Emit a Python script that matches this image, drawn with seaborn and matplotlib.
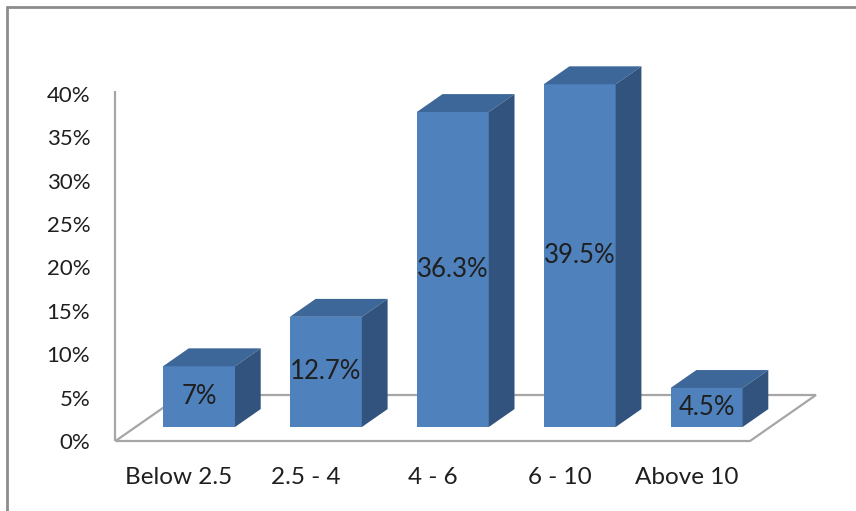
import matplotlib
matplotlib.use("Agg")
import matplotlib.pyplot as plt
from matplotlib.patches import Polygon
from matplotlib.lines import Line2D
import seaborn as sns
import pandas as pd

# Share of respondents per range
categories = ["Below 2.5", "2.5 - 4", "4 - 6", "6 - 10", "Above 10"]
values = [7.0, 12.7, 36.3, 39.5, 4.5]
value_labels = ["7%", "12.7%", "36.3%", "39.5%", "4.5%"]
tick_values = [0, 5, 10, 15, 20, 25, 30, 35, 40]
tick_labels = ["0%", "5%", "10%", "15%", "20%", "25%", "30%", "35%", "40%"]

sns.set_style("white")
plt.rcParams["font.family"] = ["Lato", "DejaVu Sans"]

FRONT = "#4F81BD"
TOP = "#3D6798"
SIDE = "#31537D"
GRID = "#A6A6A6"
TEXT = "#1F1F1F"

# oblique projection: full floor depth expressed in (category, percent) units
DEPTH = (0.52, 5.30)
FRONT_FRAC = 0.304      # bars sit this far back from the floor's front edge
BAR_FRAC = 0.39         # depth of each bar
BAR_WIDTH = 0.567

df = pd.DataFrame({"range": categories, "share": values})

fig = plt.figure(figsize=(8.56, 5.11), dpi=100)
ax = fig.add_axes([100 / 856, 51 / 511, 750 / 856, 420 / 511])
sns.barplot(data=df, x="range", y="share", color=FRONT, saturation=1,
            width=BAR_WIDTH, ax=ax, zorder=3, linewidth=0)

n = len(categories)
fx, fy = -FRONT_FRAC * DEPTH[0], -FRONT_FRAC * DEPTH[1]
bx, by = (1 - FRONT_FRAC) * DEPTH[0], (1 - FRONT_FRAC) * DEPTH[1]
dx, dy = BAR_FRAC * DEPTH[0], BAR_FRAC * DEPTH[1]

# floor outline and vertical axis line
floor = Polygon([(-0.5 + fx, fy), (n - 0.5 + fx, fy), (n - 0.5 + bx, by),
                 (-0.5 + bx, by)], closed=True, fill=False,
                edgecolor=GRID, linewidth=1.6, zorder=1)
ax.add_patch(floor)
ax.plot([-0.5 + fx, -0.5 + fx], [fy, max(tick_values) + fy + 0.35],
        color=GRID, linewidth=1.6, zorder=1, solid_capstyle="butt")

# top and side faces of each bar
for p, lab in zip(ax.patches[:n], value_labels):
    x0, w, h = p.get_x(), p.get_width(), p.get_height()
    top = Polygon([(x0, h), (x0 + w, h), (x0 + w + dx, h + dy), (x0 + dx, h + dy)],
                  closed=True, facecolor=TOP, edgecolor="none", zorder=3)
    side = Polygon([(x0 + w, 0), (x0 + w + dx, dy), (x0 + w + dx, h + dy), (x0 + w, h)],
                   closed=True, facecolor=SIDE, edgecolor="none", zorder=3)
    ax.add_patch(top)
    ax.add_patch(side)
    ax.text(x0 + w / 2, h / 2, lab, ha="center", va="center",
            fontsize=18.5, color=TEXT, zorder=4)

ax.set_xlim(-0.78, 5.13)
ax.set_ylim(-3.8, 44.6)
ax.set_yticks([v + fy for v in tick_values], tick_labels)
ax.set_xticks([i + fx for i in range(n)], categories)
ax.tick_params(axis="both", length=0, labelcolor=TEXT)
ax.tick_params(axis="y", pad=7, labelsize=16)
ax.tick_params(axis="x", pad=5, labelsize=17.5)
ax.set_xlabel("")
ax.set_ylabel("")
for s in ax.spines.values():
    s.set_visible(False)

# chart area border (top and left edges)
fig.add_artist(Line2D([7 / 856, 1.0], [1 - 7 / 511, 1 - 7 / 511],
                      transform=fig.transFigure, color="#8C8C8C", linewidth=2))
fig.add_artist(Line2D([7 / 856, 7 / 856], [0, 1 - 7 / 511],
                      transform=fig.transFigure, color="#8C8C8C", linewidth=2))

fig.savefig("out.png", dpi=100)
